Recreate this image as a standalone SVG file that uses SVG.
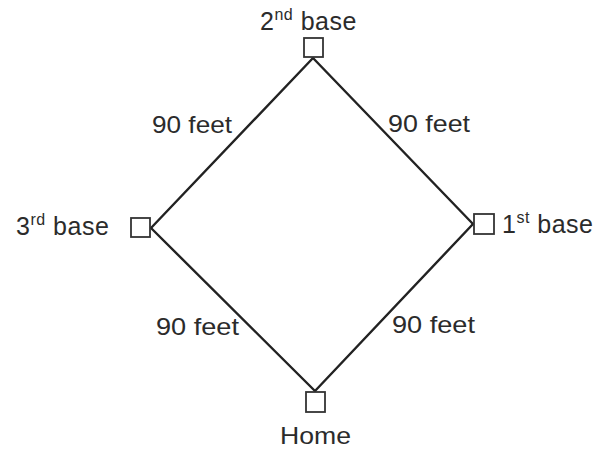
<svg xmlns="http://www.w3.org/2000/svg" width="613" height="449" viewBox="0 0 613 449">
<style>
.lbl{font-family:"Liberation Sans",Arial,sans-serif;font-size:24px;fill:#2b2b2b}
.bl{font-size:25px;letter-spacing:0.5px}
.sup{font-size:16px}
.base{fill:#fff;stroke:#333;stroke-width:1.8}
.edge{stroke:#222;stroke-width:2.4;fill:none;stroke-linecap:round}
</style>
<rect width="613" height="449" fill="#fff"/>
<g id="connectors">
<line class="edge" x1="313" y1="58" x2="151" y2="228"/>
<line class="edge" x1="313" y1="58" x2="473" y2="224"/>
<line class="edge" x1="151" y1="228" x2="315" y2="391"/>
<line class="edge" x1="473" y1="224" x2="315" y2="391"/>
<text class="lbl" x="152" y="133" textLength="80" lengthAdjust="spacingAndGlyphs">90 feet</text>
<text class="lbl" x="388" y="132" textLength="82" lengthAdjust="spacingAndGlyphs">90 feet</text>
<text class="lbl" x="156" y="335" textLength="83" lengthAdjust="spacingAndGlyphs">90 feet</text>
<text class="lbl" x="392" y="333" textLength="83" lengthAdjust="spacingAndGlyphs">90 feet</text>
</g>
<g id="second-base">
<rect class="base" x="304" y="38" width="19" height="19"/>
<text class="lbl bl" x="260" y="30">2<tspan class="sup" dy="-10">nd</tspan><tspan dy="10"> base</tspan></text>
</g>
<g id="third-base">
<rect class="base" x="131" y="218" width="19" height="19"/>
<text class="lbl bl" x="16" y="235">3<tspan class="sup" dy="-10">rd</tspan><tspan dy="10"> base</tspan></text>
</g>
<g id="first-base">
<rect class="base" x="474" y="214" width="20" height="20"/>
<text class="lbl bl" x="502" y="233">1<tspan class="sup" dy="-10">st</tspan><tspan dy="10"> base</tspan></text>
</g>
<g id="home">
<rect class="base" x="306" y="392" width="19" height="20"/>
<text class="lbl" x="280" y="444" textLength="71" lengthAdjust="spacingAndGlyphs">Home</text>
</g>
</svg>
